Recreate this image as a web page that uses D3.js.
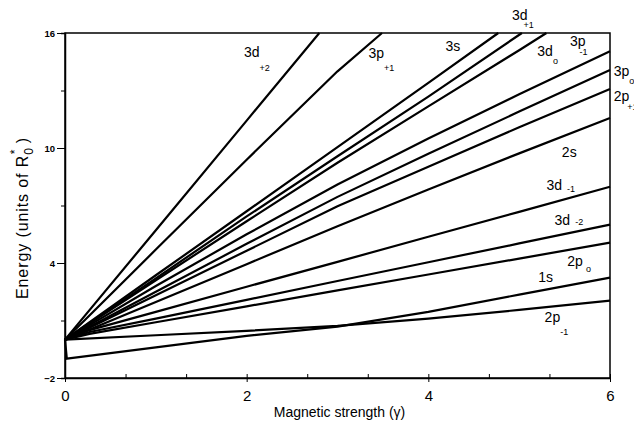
<!DOCTYPE html>
<html>
<head>
<meta charset="utf-8">
<script src="https://cdn.jsdelivr.net/npm/d3@7"></script>
<style>
  body { margin: 0; background: #fff; }
  svg { display: block; font-family: "Liberation Sans", Arial, Helvetica, sans-serif; }
</style>
</head>
<body>
<script>
'use strict';

// magnetic strength samples
const gStd = [0, 1, 2, 3, 4, 5, 6];
const gKink = [0, 0.27, 1, 2, 3, 4, 5, 6];

// energies (units of R0*)
const g_3dp2 = [0, 1, 2, 2.80];
const e_3dp2 = [0, 5.71, 11.43, 16];
const g_3pp1 = [0, 1, 2, 3, 3.49];
const e_3pp1 = [0, 4.7, 9.39, 14.0, 16];
const g_3s = [0, 1, 2, 3, 4, 4.77];
const e_3s = [0, 3.36, 6.7, 10.05, 13.4, 16];
const g_3dp1 = [0, 1, 2, 3, 4, 5.03];
const e_3dp1 = [0, 3.2, 6.43, 9.57, 12.68, 16];
const g_3d0 = [0, 1, 2, 3, 4, 5, 5.30];
const e_3d0 = [0, 3.1, 6.18, 9.23, 12.17, 15.1, 16];
const e_3pm1 = [0, 2.8, 5.5, 8.1, 10.5, 12.8, 15.05];
const e_3p0 = [0, 2.5, 5.0, 7.45, 9.7, 11.9, 14.07];
const e_2pp1 = [0, 2.32, 4.64, 6.96, 9.02, 11.08, 13.08];
const e_2s = [0, 1.97, 3.94, 5.92, 7.84, 9.72, 11.57];
const e_3dm1 = [0, 0.5, 1.45, 2.76, 4.06, 5.37, 6.67, 7.98];
const e_3dm2 = [0, 0.4, 1.1, 2.08, 3.06, 4.04, 5.02, 6.0];
const e_2p0 = [0, 0.3, 0.91, 1.74, 2.57, 3.40, 4.23, 5.06];
const e_1s = [-1, -0.4, 0.2, 0.68, 1.45, 2.35, 3.24];
const e_2pm1 = [0, 0.23, 0.46, 0.72, 1.1, 1.55, 2.04];
// zero-field link between n=2,3 and 1s
const g_link = [0, 0.02];
const e_link = [0, -1];

const xTicks = [0, 2, 4, 6];
const yTicks = [-2, 4, 10, 16];

const series = [
  [g_3dp2, e_3dp2], [g_3pp1, e_3pp1], [g_3s, e_3s], [g_3dp1, e_3dp1], [g_3d0, e_3d0],
  [gStd, e_3pm1], [gStd, e_3p0], [gStd, e_2pp1], [gStd, e_2s],
  [gKink, e_3dm1], [gKink, e_3dm2], [gKink, e_2p0],
  [gStd, e_1s], [gStd, e_2pm1], [g_link, e_link]
];

// state labels: name, subscript
const labelNames = ["3d", "3p", "3s", "3d", "3d", "3p", "3p", "2p", "2s", "3d", "3d", "2p", "1s", "2p"];
const labelSubs = ["+2", "+1", "", "+1", "o", "-1", "o", "+1", "", "-1", "-2", "o", "", "-1"];

// label placement (data units for the main text, px offsets for the subscript)
const labelAt = [
  [1.97, 14.75, 0, 14], [3.34, 14.70, 0, 13], [4.19, 15.06, 0, 0], [4.92, 16.68, -4, 8],
  [5.20, 14.80, 0, 8], [5.56, 15.32, -6, 9], [6.04, 13.76, 0, 8], [6.04, 12.45, -2, 9],
  [5.47, 9.53, 0, 0], [5.30, 7.81, 5, 2], [5.39, 5.98, 5, 0], [5.53, 3.85, 3, 6],
  [5.21, 3.01, 0, 0], [5.28, 0.92, 0, 13]
];

const W = 634, H = 421;
const svg = d3.select('body').append('svg')
  .attr('width', W)
  .attr('height', H);

const x = d3.scaleLinear().domain([0, 6]).range([65, 610]);
const y = d3.scaleLinear().domain([-2, 16]).range([378, 33]);

// frame
svg.append('rect')
  .attr('x', x(0)).attr('y', y(16))
  .attr('width', x(6) - x(0)).attr('height', y(-2) - y(16))
  .attr('fill', 'none').attr('stroke', '#000').attr('stroke-width', 1.5);

// x axis: minor ticks inside, labels below
svg.append('g')
  .attr('transform', `translate(0,${y(-2)})`)
  .call(d3.axisBottom(x)
    .tickValues(d3.range(0, 6.01, 2 / 3))
    .tickSizeInner(-4).tickSizeOuter(0)
    .tickFormat(''))
  .call(g => g.select('.domain').attr('stroke-width', 1.5));

svg.append('g')
  .attr('transform', `translate(0,${y(-2)})`)
  .call(d3.axisBottom(x).tickValues(xTicks).tickSize(4).tickPadding(8).tickFormat(d3.format('d')))
  .call(g => g.select('.domain').remove())
  .call(g => g.selectAll('text').attr('font-size', 15).attr('fill', '#000')
    .attr('font-family', '"Liberation Sans", Arial, sans-serif'));

// y axis
svg.append('g')
  .attr('transform', `translate(${x(0)},0)`)
  .call(d3.axisLeft(y).tickValues(d3.range(-2, 16.01, 3)).tickSize(4).tickFormat(''))
  .call(g => g.select('.domain').attr('stroke-width', 1.5));

svg.append('g')
  .attr('transform', `translate(${x(0)},0)`)
  .call(d3.axisLeft(y).tickValues(yTicks).tickSize(8).tickPadding(2).tickFormat(d3.format('d')))
  .call(g => g.select('.domain').remove())
  .call(g => g.selectAll('text').attr('font-size', 9.5).attr('font-weight', 'bold').attr('fill', '#000')
    .attr('font-family', '"Liberation Sans", Arial, sans-serif'));

// energy curves
const line = d3.line()
  .x(d => x(d[0]))
  .y(d => y(d[1]));

svg.append('g')
  .selectAll('path')
  .data(series)
  .enter()
  .append('path')
  .attr('d', s => line(s[0].map((g, i) => [g, s[1][i]])))
  .attr('fill', 'none')
  .attr('stroke', '#000')
  .attr('stroke-width', 2.2)
  .attr('stroke-linejoin', 'round');

// state labels
const lbl = svg.append('g').attr('font-size', 14).attr('fill', '#000');
labelNames.forEach((name, i) => {
  const p = labelAt[i];
  const t = lbl.append('text')
    .attr('x', x(p[0]))
    .attr('y', y(p[1]));
  t.append('tspan').text(name);
  if (labelSubs[i]) {
    t.append('tspan')
      .attr('dx', p[2])
      .attr('dy', p[3])
      .attr('font-size', 9)
      .text(labelSubs[i]);
  }
});

// axis titles
svg.append('text')
  .attr('x', (x(0) + x(6)) / 2 + 2)
  .attr('y', 417)
  .attr('text-anchor', 'middle')
  .attr('font-size', 14)
  .text('Magnetic strength (\u03B3)');

const yt = svg.append('text')
  .attr('transform', 'translate(28,218) rotate(-90)')
  .attr('text-anchor', 'middle')
  .attr('font-size', 16)
  .attr('letter-spacing', 0.9);
yt.append('tspan').text('Energy (units of R');
yt.append('tspan').attr('font-size', 12).attr('dy', 5).text('0');
yt.append('tspan').attr('font-size', 12).attr('dx', -7).attr('dy', -14).text('*');
yt.append('tspan').attr('dy', 9).text(' )');
</script>
</body>
</html>
